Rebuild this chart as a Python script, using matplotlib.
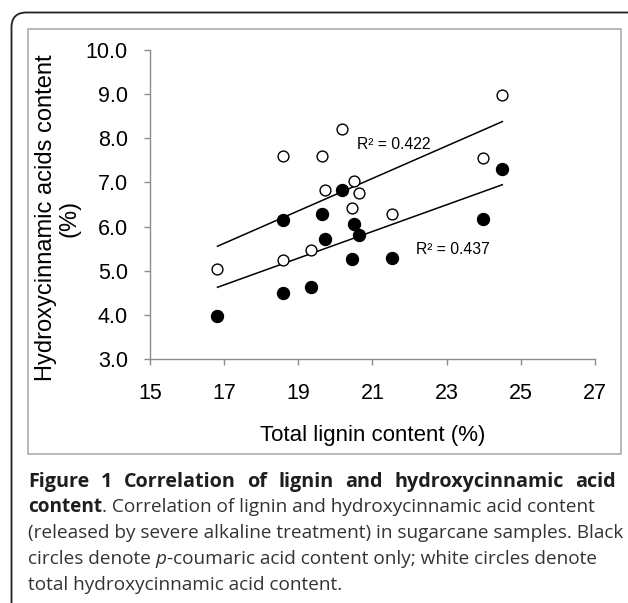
import numpy as np
import matplotlib.pyplot as plt
from matplotlib.patches import FancyBboxPatch, Rectangle

# total lignin (%) per sample, shared by both series
lignin = [16.82, 18.59, 18.59, 19.34, 19.65, 19.71, 20.19, 20.46, 20.49, 20.63, 21.53, 23.98, 24.50]
# white circles: total hydroxycinnamic acids (%)
total_hca = [5.03, 7.59, 5.25, 5.48, 7.61, 6.82, 8.22, 6.43, 7.03, 6.76, 6.29, 7.56, 8.98]
# black circles: p-coumaric acid only (%)
pca = [3.97, 6.16, 4.49, 4.63, 6.28, 5.72, 6.82, 5.26, 6.05, 5.82, 5.29, 6.18, 7.31]

r2_labels = ["R\u00b2 = 0.422", "R\u00b2 = 0.437"]
xticks = [15, 17, 19, 21, 23, 25, 27]
yticks = [3.0, 4.0, 5.0, 6.0, 7.0, 8.0, 9.0, 10.0]

W, H = 628, 603
plt.rcParams["font.family"] = ["Liberation Sans", "DejaVu Sans"]
fig = plt.figure(figsize=(W / 100, H / 100), dpi=100)

# outer rounded frame and grey chart box
fig.patches.append(FancyBboxPatch((0.115, -0.3), 6.6, 5.905 + 0.3, boxstyle="round,pad=0,rounding_size=0.15",
                                  transform=fig.dpi_scale_trans, fill=False, ec="#222222", lw=1.3))
fig.patches.append(Rectangle((28 / W, 1 - 454 / H), (621 - 28) / W, (454 - 29) / H,
                             transform=fig.transFigure, fill=False, ec="#a5a5a5", lw=1.1))

ax = fig.add_axes([150 / W, 1 - 359 / H, (595 - 150) / W, (359 - 50) / H])
ax.set_xlim(15, 27)
ax.set_ylim(3, 10)

x = np.array(lignin)
xs = np.array([x.min(), x.max()])
for y in (total_hca, pca):
    k, b = np.polyfit(x, y, 1)
    ax.plot(xs, k * xs + b, color="black", lw=1.1, zorder=2)

ax.plot(lignin, pca, "o", ms=8.8, mfc="black", mec="black", mew=0.8, zorder=3)
ax.plot(lignin, total_hca, "o", ms=7.8, mfc="white", mec="black", mew=1.0, zorder=3)

ax.text(20.57, 7.855, r2_labels[0], fontsize=11.3, va="center", ha="left")
ax.text(22.18, 5.48, r2_labels[1], fontsize=11.3, va="center", ha="left")

ax.set_xticks(xticks)
ax.set_yticks(yticks)
ax.set_yticklabels([f"{v:.1f}" for v in yticks])
for s in ("top", "right"):
    ax.spines[s].set_visible(False)
for s in ("left", "bottom"):
    ax.spines[s].set_color("#8c8c8c")
    ax.spines[s].set_linewidth(1.0)
ax.tick_params(axis="both", direction="out", length=4.5, width=1.0, color="#8c8c8c", labelsize=15.5)
ax.tick_params(axis="y", pad=11.5)
ax.tick_params(axis="x", pad=13)

fig.text(373 / W, 1 - 435 / H, "Total lignin content (%)", fontsize=16, ha="center", va="center")
fig.text(58 / W, 1 - 218 / H, "Hydroxycinnamic acids content\n(%)", fontsize=17, rotation=90,
         ha="center", va="center", multialignment="center", linespacing=1.1)

# caption
fig.canvas.draw()
rend = fig.canvas.get_renderer()
cap = dict(family=["Open Sans", "DejaVu Sans"], color="#333333", va="baseline")


def wpx(t):
    return t.get_window_extent(rend).width


def ctext(xf, yf, s, size, **kw):
    return fig.text(xf, yf, s, fontsize=size, **{**cap, **kw})


probe = ctext(0, 0, "content. Correlation of lignin and hydroxycinnamic acid content", 12)
fs = 12 * 558 / wpx(probe)
probe.remove()
sp = ctext(0, 0, "a a", fs)
sp2 = ctext(0, 0, "aa", fs)
space = wpx(sp) - wpx(sp2)
sp.remove()
sp2.remove()


def runs(y, parts, x0=28):
    xp = x0
    for s, kw in parts:
        if s == " ":
            xp += space
            continue
        t = ctext(xp / W, 1 - y / H, s, fs, **kw)
        xp += wpx(t)


bold = dict(fontweight="bold", color="#1e1e1e")
words = "Figure 1 Correlation of lignin and hydroxycinnamic acid".split()
texts = [ctext(0, 1 - 487 / H, w, fs * 1.04, **bold) for w in words]
widths = [wpx(t) for t in texts]
gap = (616 - 28 - sum(widths)) / (len(words) - 1)
xp = 28
for t, w in zip(texts, widths):
    t.set_x(xp / W)
    xp += w + gap

runs(512, [("content", bold), (". Correlation of lignin and hydroxycinnamic acid content", {})])
runs(538, [("(released by severe alkaline treatment) in sugarcane samples. Black", {})])
runs(564, [("circles denote", {}), (" ", {}), ("p", dict(style="italic")),
           ("-coumaric acid content only; white circles denote", {})])
runs(590, [("total hydroxycinnamic acid content.", {})])

fig.savefig("out.png", dpi=100)
